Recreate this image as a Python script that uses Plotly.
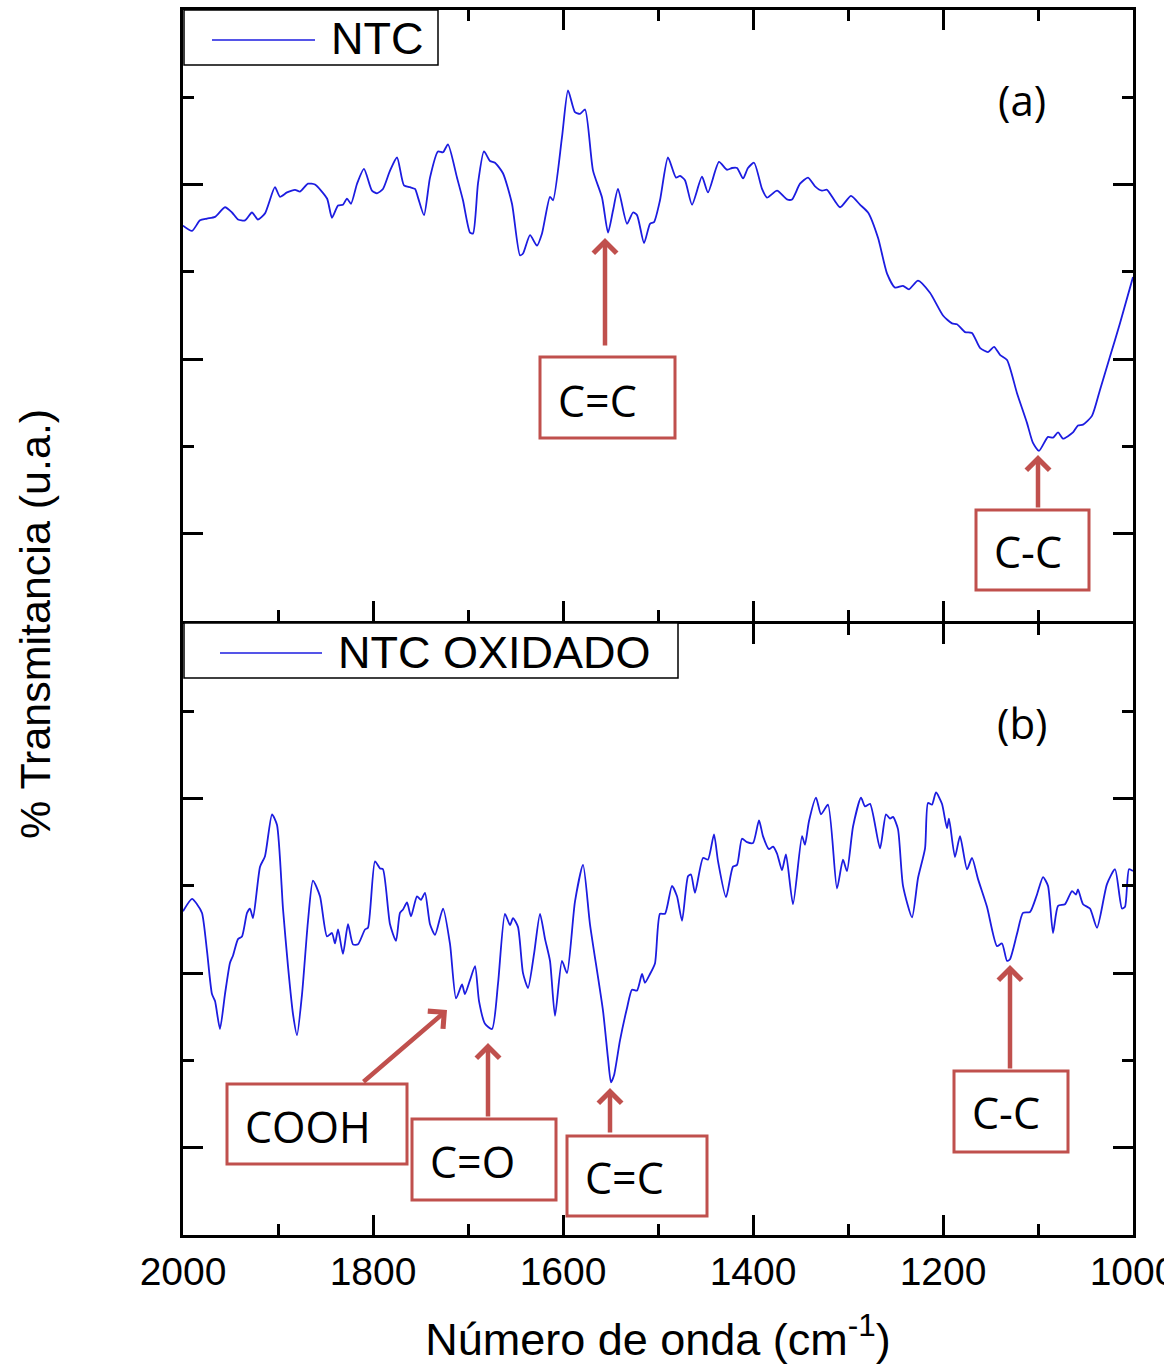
import plotly.graph_objects as go

# ---------------- data (wavenumber cm^-1, transmittance a.u.) ----------------
ntc_wn = [2000, 1990.5, 1982.1, 1974.7, 1966.3, 1955.8, 1948.4, 1942.1, 1934.7, 1927.4,
          1921.1, 1913.7, 1903.2, 1897.9, 1890.5, 1882.1, 1876.8, 1868.4, 1861.1, 1848.4,
          1843.2, 1836.8, 1831.6, 1827.4, 1823.2, 1816.8, 1809.5, 1801.1, 1795.8, 1789.5,
          1782.1, 1774.7, 1767.4, 1761.1, 1755.8, 1752.6, 1746.3, 1740.0, 1731.6, 1726.3,
          1721.1, 1711.6, 1705.3, 1697.9, 1694.7, 1689.5, 1683.2, 1676.8, 1671.6, 1663.2,
          1653.7, 1645.3, 1642.1, 1634.7, 1627.4, 1622.1, 1613.7, 1610.5, 1601.1, 1594.7,
          1587.4, 1582.1, 1576.8, 1568.4, 1558.9, 1552.6, 1547.4, 1542.1, 1532.6, 1526.3,
          1522.1, 1514.7, 1508.4, 1504.2, 1497.9, 1489.5, 1481.1, 1476.8, 1471.6, 1464.2,
          1453.7, 1447.4, 1435.8, 1427.4, 1422.1, 1416.8, 1410.5, 1405.3, 1398.9, 1390.5,
          1385.3, 1374.7, 1364.2, 1358.9, 1350.5, 1342.1, 1334.7, 1327.4, 1322.1, 1308.4,
          1296.8, 1287.4, 1278.9, 1268.4, 1258.9, 1250.5, 1242.1, 1235.8, 1226.3, 1213.7,
          1200.0, 1190.5, 1185.3, 1176.8, 1169.5, 1161.1, 1152.6, 1146.3, 1140.0, 1132.6,
          1122.1, 1111.6, 1105.3, 1098.9, 1089.5, 1084.2, 1078.9, 1073.7, 1063.2, 1057.9,
          1052.6, 1043.2, 1034.7, 1024.2, 1013.7, 1000.0]
ntc_t = [4.53, 4.47, 4.59, 4.61, 4.63, 4.74, 4.68, 4.60, 4.59, 4.68,
         4.60, 4.67, 4.97, 4.86, 4.91, 4.94, 4.92, 5.01, 5.00, 4.84,
         4.62, 4.76, 4.77, 4.84, 4.78, 5.01, 5.18, 4.93, 4.90, 4.95,
         5.16, 5.31, 4.99, 4.97, 4.95, 4.85, 4.65, 5.08, 5.38, 5.37,
         5.46, 5.08, 4.82, 4.45, 4.44, 5.01, 5.38, 5.27, 5.25, 5.13,
         4.78, 4.19, 4.21, 4.42, 4.30, 4.44, 4.86, 4.82, 5.54, 6.08,
         5.83, 5.81, 5.86, 5.16, 4.85, 4.45, 4.70, 4.95, 4.55, 4.68,
         4.65, 4.33, 4.55, 4.57, 4.82, 5.31, 5.08, 5.10, 5.05, 4.77,
         5.09, 4.91, 5.26, 5.17, 5.19, 5.19, 5.07, 5.19, 5.25, 4.95,
         4.85, 4.93, 4.83, 4.83, 5.01, 5.08, 4.98, 4.93, 4.94, 4.74,
         4.87, 4.77, 4.68, 4.39, 3.98, 3.82, 3.84, 3.80, 3.90, 3.76,
         3.50, 3.41, 3.40, 3.31, 3.30, 3.13, 3.08, 3.14, 3.05, 2.99,
         2.61, 2.27, 2.04, 1.95, 2.11, 2.10, 2.16, 2.09, 2.16, 2.24,
         2.25, 2.35, 2.65, 3.03, 3.41, 3.94]

ox_wn = [2000, 1990.5, 1985.3, 1980.0, 1974.7, 1969.5, 1966.3, 1961.1, 1955.8, 1950.5,
         1947.4, 1942.1, 1937.9, 1932.6, 1929.5, 1926.3, 1918.9, 1913.7, 1906.3, 1901.1,
         1894.7, 1889.5, 1884.2, 1880.0, 1874.7, 1868.4, 1863.2, 1855.8, 1848.4, 1843.2,
         1840.0, 1836.8, 1831.6, 1826.3, 1821.1, 1815.8, 1808.4, 1805.3, 1797.9, 1792.6,
         1789.5, 1782.1, 1775.8, 1771.6, 1768.4, 1764.2, 1760.0, 1753.7, 1749.5, 1745.3,
         1740.0, 1734.7, 1726.3, 1718.9, 1712.6, 1706.3, 1703.2, 1697.9, 1692.6, 1688.4,
         1682.1, 1674.7, 1668.4, 1661.1, 1655.8, 1652.6, 1647.4, 1642.1, 1636.8, 1630.5,
         1624.2, 1618.9, 1613.7, 1608.4, 1601.1, 1595.8, 1587.4, 1578.9, 1571.6, 1557.9,
         1552.6, 1549.5, 1546.3, 1540.0, 1532.6, 1527.4, 1522.1, 1516.8, 1513.7, 1508.4,
         1503.2, 1497.9, 1492.6, 1485.3, 1480.0, 1474.7, 1468.4, 1465.3, 1461.1, 1452.6,
         1447.4, 1441.1, 1436.8, 1428.4, 1421.1, 1416.8, 1411.6, 1406.3, 1400.0, 1393.7,
         1389.5, 1383.2, 1378.9, 1374.7, 1369.5, 1365.3, 1357.9, 1348.4, 1345.3, 1341.1,
         1333.7, 1328.4, 1321.1, 1311.6, 1305.3, 1301.1, 1294.7, 1286.3, 1282.1, 1276.8,
         1266.3, 1260.0, 1255.8, 1252.6, 1247.4, 1242.1, 1232.6, 1226.3, 1218.9, 1215.8,
         1211.6, 1207.4, 1201.1, 1195.8, 1193.7, 1187.4, 1182.1, 1174.7, 1169.5, 1163.2,
         1153.7, 1143.2, 1137.9, 1132.6, 1129.5, 1122.1, 1115.8, 1108.4, 1101.1, 1094.7,
         1089.5, 1084.2, 1078.9, 1071.6, 1064.2, 1060.0, 1057.9, 1052.6, 1045.3, 1037.9,
         1027.4, 1018.9, 1011.6, 1008.4, 1004.2, 1000.0]
ox_t = [3.71, 3.85, 3.79, 3.69, 3.25, 2.76, 2.68, 2.36, 2.76, 3.12,
        3.20, 3.39, 3.42, 3.69, 3.74, 3.63, 4.22, 4.34, 4.82, 4.70,
        3.73, 3.08, 2.53, 2.29, 2.76, 3.60, 4.06, 3.88, 3.42, 3.46,
        3.34, 3.50, 3.22, 3.56, 3.33, 3.33, 3.50, 3.52, 4.28, 4.20,
        4.19, 3.56, 3.37, 3.69, 3.73, 3.81, 3.65, 3.88, 3.84, 3.92,
        3.56, 3.44, 3.74, 3.33, 2.71, 2.87, 2.76, 2.92, 3.08, 2.68,
        2.42, 2.36, 2.88, 3.68, 3.55, 3.63, 3.53, 3.00, 2.83, 3.22,
        3.68, 3.39, 3.14, 2.51, 3.14, 3.00, 3.82, 4.24, 3.56, 2.57,
        2.02, 1.75, 1.83, 2.23, 2.60, 2.81, 2.80, 2.99, 2.89, 2.99,
        3.11, 3.68, 3.68, 4.00, 3.88, 3.60, 4.11, 4.13, 3.92, 4.32,
        4.30, 4.59, 4.28, 3.87, 4.22, 4.24, 4.54, 4.50, 4.49, 4.75,
        4.57, 4.42, 4.45, 4.37, 4.18, 4.36, 3.79, 4.57, 4.47, 4.74,
        5.01, 4.82, 4.93, 3.97, 4.30, 4.17, 4.68, 5.01, 4.91, 4.94,
        4.43, 4.82, 4.77, 4.79, 4.65, 4.00, 3.64, 4.09, 4.43, 4.95,
        4.93, 5.07, 4.94, 4.66, 4.77, 4.33, 4.57, 4.19, 4.32, 4.08,
        3.76, 3.31, 3.34, 3.14, 3.16, 3.45, 3.69, 3.70, 3.90, 4.10,
        4.00, 3.46, 3.77, 3.79, 3.94, 3.90, 3.96, 3.79, 3.74, 3.52,
        4.02, 4.19, 3.74, 3.76, 4.19, 4.17]

x_tick_vals = [2000, 1800, 1600, 1400, 1200, 1000]
x_tick_text = ["2000", "1800", "1600", "1400", "1200", "1000"]
legend_top = "NTC"
legend_bot = "NTC OXIDADO"

# ---------------- layout helpers (pixel -> paper) ----------------
W, H = 1164, 1368
L, R, T, B = 183, 1133, 10, 1235


def px(xp):
    return (xp - L) / (R - L)


def py(yp):
    return (B - yp) / (B - T)


RED = "#c0504d"
BLUE = "#1c1ce0"
fig = go.Figure()
fig.add_trace(go.Scatter(x=ntc_wn, y=ntc_t, xaxis="x2", yaxis="y2", mode="lines",
                         line=dict(color=BLUE, width=1.8, shape="spline", smoothing=0.6),
                         name=legend_top, showlegend=False))
fig.add_trace(go.Scatter(x=ox_wn, y=ox_t, xaxis="x", yaxis="y", mode="lines",
                         line=dict(color=BLUE, width=1.8, shape="spline", smoothing=0.6),
                         name=legend_bot, showlegend=False))

axis_common = dict(showline=True, linecolor="black", linewidth=3, mirror="allticks",
                   ticks="inside", tickcolor="black", tickwidth=2.5, showgrid=False,
                   zeroline=False, automargin=False)
xa = dict(range=[2000, 1000], tickvals=x_tick_vals, ticktext=x_tick_text, ticklen=20,
          ticklabeloverflow="allow",
          minor=dict(dtick=100, tick0=1000, ticks="inside", ticklen=11, tickwidth=2.5,
                     tickcolor="black", showgrid=False),
          **axis_common)
ya = dict(range=[0, 7], tick0=1, dtick=2, ticklen=20, showticklabels=False,
          minor=dict(tick0=0, dtick=1, ticks="inside", ticklen=11, tickwidth=2.5,
                     tickcolor="black", showgrid=False),
          **axis_common)

# panel split: axis lines are drawn just outside each plot area, so leave a
# 3 px gap so that the two frame lines coincide at the panel boundary
gap = 1.5 / (B - T)
fig.update_layout(
    width=W, height=H, plot_bgcolor="white", paper_bgcolor="white",
    margin=dict(l=L, r=W - R, t=T, b=H - B, autoexpand=False),
    showlegend=False,
    xaxis=dict(domain=[0, 1], anchor="y",
               tickfont=dict(family="Liberation Sans, Arial", size=39, color="black"),
               title=dict(text="Número de onda (cm<sup>-1</sup>)",
                          font=dict(family="Liberation Sans, Arial", size=45, color="black"),
                          standoff=32),
               **xa),
    yaxis=dict(domain=[0, 0.5 - gap], anchor="x", **ya),
    xaxis2=dict(domain=[0, 1], anchor="y2", matches="x", showticklabels=False, **xa),
    yaxis2=dict(domain=[0.5 + gap, 1], anchor="x2", **ya),
)

shapes = []
annotations = []

# manual legends
for (x0, y0, x1, y1, lx0, lx1, ly, tx, label) in [
        (184, 10, 438, 65, 212, 315, 40, 329, legend_top),
        (184, 623, 678, 678, 220, 322, 653, 336, legend_bot)]:
    shapes.append(dict(type="rect", xref="paper", yref="paper", x0=px(x0), x1=px(x1),
                       y0=py(y1), y1=py(y0), line=dict(color="black", width=1.5),
                       fillcolor="white", layer="above"))
    shapes.append(dict(type="line", xref="paper", yref="paper", x0=px(lx0), x1=px(lx1),
                       y0=py(ly), y1=py(ly), line=dict(color=BLUE, width=1.5), layer="above"))
    annotations.append(dict(text=label, xref="paper", yref="paper", x=px(tx), y=py(ly - 1),
                            xanchor="left", yanchor="middle", showarrow=False,
                            font=dict(family="Liberation Sans, Arial", size=45, color="black")))

# panel labels
for label, (cx, cy) in [("(a)", (1022, 100)), ("(b)", (1022, 722))]:
    annotations.append(dict(text=label, xref="paper", yref="paper", x=px(cx), y=py(cy),
                            xanchor="center", yanchor="middle", showarrow=False,
                            font=dict(family="Open Sans", size=42, color="black")))

# labelled boxes: (text, box x0, y0, x1, y1, text centre x, y)
boxes = [("C=C", 540, 357, 675, 438, 597, 400),
         ("C-C", 976, 510, 1089, 590, 1028, 551),
         ("COOH", 227, 1084, 407, 1164, 308, 1126),
         ("C=O", 412, 1119, 556, 1200, 472, 1161),
         ("C=C", 567, 1136, 707, 1216, 624, 1177),
         ("C-C", 954, 1071, 1068, 1152, 1006, 1112)]
for (txt, x0, y0, x1, y1, cx, cy) in boxes:
    shapes.append(dict(type="rect", xref="paper", yref="paper", x0=px(x0), x1=px(x1),
                       y0=py(y1), y1=py(y0), line=dict(color=RED, width=3),
                       fillcolor="white", layer="above"))
    annotations.append(dict(text=txt, xref="paper", yref="paper", x=px(cx), y=py(cy),
                            xanchor="center", yanchor="middle", showarrow=False,
                            font=dict(family="Open Sans", size=43, color="black")))

# arrows: (tail x, tail y, tip x, tip y)
arrows = [(605, 347, 605, 238), (1038, 509, 1038, 455), (362, 1083, 447, 1010),
          (488, 1118, 488, 1043), (610, 1134, 610, 1088), (1010, 1070, 1010, 965)]
for (tx0, ty0, tx1, ty1) in arrows:
    annotations.append(dict(text="", xref="paper", yref="paper", x=px(tx1), y=py(ty1),
                            axref="pixel", ayref="pixel", ax=tx0 - tx1, ay=ty0 - ty1,
                            showarrow=True, arrowhead=4, arrowwidth=4.5, arrowsize=1.0,
                            arrowcolor=RED, standoff=0))

# y-axis title
annotations.append(dict(text="% Transmitancia (u.a.)", xref="paper", yref="paper",
                        x=px(35), y=py(624), textangle=-90, showarrow=False,
                        xanchor="center", yanchor="middle",
                        font=dict(family="Liberation Sans, Arial", size=43, color="black")))

fig.update_layout(shapes=shapes, annotations=annotations)
fig.write_html("out.html")
